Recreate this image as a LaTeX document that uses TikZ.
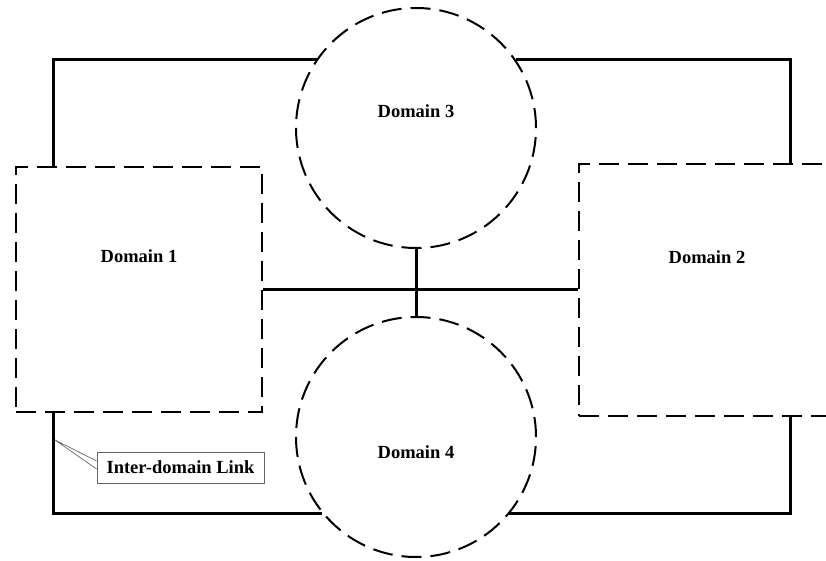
\documentclass[tikz,border=0pt]{standalone}
\usepackage{fontspec}
\setmainfont{Liberation Serif}
\begin{document}
\begin{tikzpicture}[x=1pt,y=-1pt,
  dom/.style={draw=black,line width=2pt,dash pattern=on 20pt off 9pt,inner sep=0pt},
  lbl/.style={font=\fontsize{18.5}{20}\selectfont\bfseries},
  link/.style={draw=black,line width=3pt,line join=miter},
  leader/.style={draw=black!60,line width=0.7pt},
  tag/.style={draw=black!60,line width=0.8pt,inner sep=0pt,minimum width=167pt,minimum height=31pt,font=\fontsize{18.5}{20}\selectfont\bfseries}]
\useasboundingbox (0,0) rectangle (826,561);
% domains
\node[dom,rectangle,minimum width=246pt,minimum height=245pt] (d1) at (139,289.5) {};
\node[lbl] (t1) at (139,256) {Domain 1};
\node[dom,rectangle,minimum width=300pt,minimum height=252pt,anchor=west] (d2) at (578,290) {};
\node[lbl] (t2) at (707,257) {Domain 2};
\node[dom,circle,minimum size=240pt] (d3) at (416,128) {};
\node[lbl] (t3) at (416,111) {Domain 3};
\node[dom,circle,minimum size=240pt] (d4) at (416,437) {};
\node[lbl] (t4) at (416,452) {Domain 4};
% corner coordinates
\coordinate (tl) at (53,60);
\coordinate (tr) at (790,60);
\coordinate (bl) at (53,513);
\coordinate (br) at (790,513);
% links
\draw[link] (tl |- d1.north) -- (tl) -- (tl -| d3.145.5);
\draw[link] (tr -| d3.34.5) -- (tr) -- (tr |- d2.north);
\draw[link] (bl |- d1.south) -- (bl) -- (bl -| d4.219.3);
\draw[link] (br -| d4.320.7) -- (br) -- (br |- d2.south);
\draw[link] (d1.east) -- (d1.east -| d2.west);
\draw[link] (d3.south) -- (d4.north);
% callout
\node[tag] (lk) at (180.5,467.5) {Inter-domain Link};
\coordinate (tip) at (55,440);
\draw[leader] (lk.west |- 0,461) -- (tip) -- (lk.west |- 0,469);
\end{tikzpicture}
\end{document}
